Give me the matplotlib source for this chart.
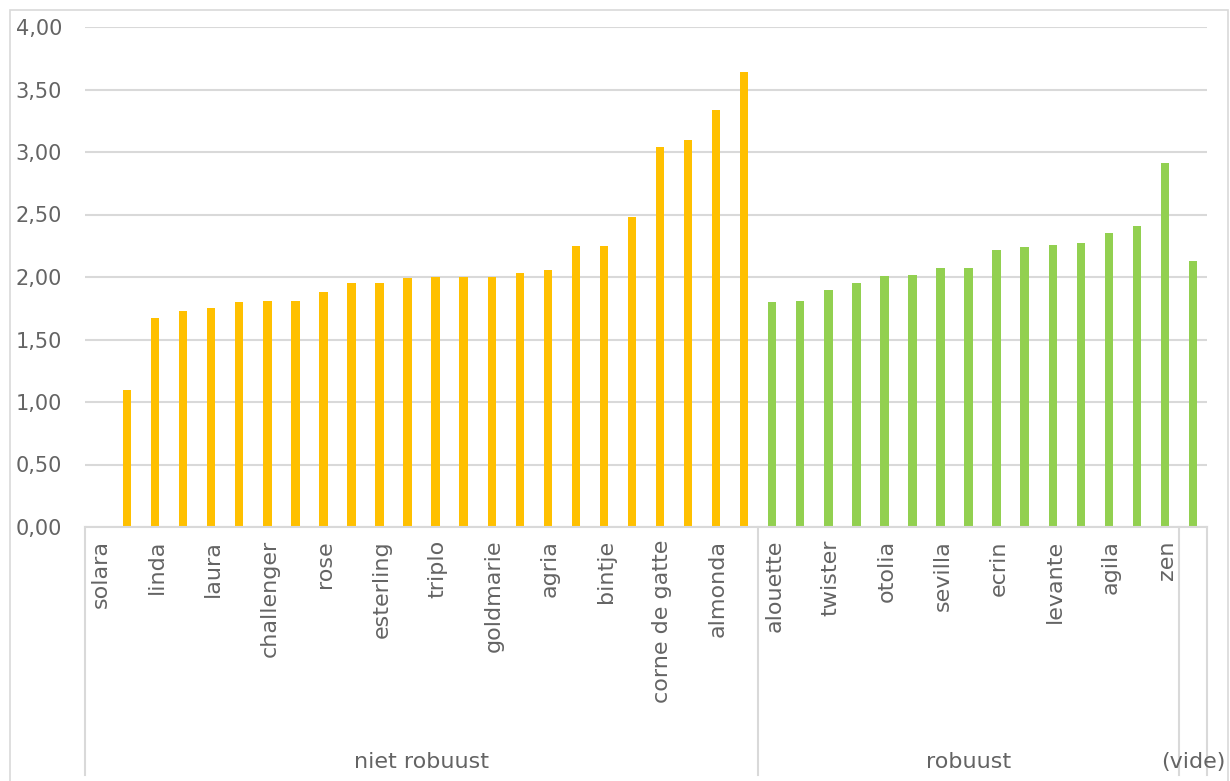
import numpy as np
import matplotlib
matplotlib.use("Agg")
import matplotlib.pyplot as plt
from matplotlib.patches import Rectangle
from matplotlib.lines import Line2D

# ---------------- data ----------------
niet_names = ["solara", "", "linda", "", "laura", "", "challenger", "", "rose", "",
              "esterling", "", "triplo", "", "goldmarie", "", "agria", "", "bintje", "",
              "corne de gatte", "", "almonda", ""]
niet_values = [np.nan, 1.10, 1.67, 1.73, 1.75, 1.80, 1.81, 1.81, 1.88, 1.95,
               1.95, 1.99, 2.00, 2.00, 2.00, 2.03, 2.06, 2.25, 2.25, 2.48,
               3.04, 3.10, 3.34, 3.64]
rob_names = ["alouette", "", "twister", "", "otolia", "", "sevilla", "", "ecrin", "",
             "levante", "", "agila", "", "zen"]
rob_values = [1.80, 1.81, 1.90, 1.95, 2.01, 2.02, 2.07, 2.07, 2.22, 2.24,
              2.26, 2.27, 2.35, 2.41, 2.91]
vide_names = [""]
vide_values = [2.13]
groups = ["niet robuust", "robuust", "(vide)"]
yticks = [0, 0.5, 1.0, 1.5, 2.0, 2.5, 3.0, 3.5, 4.0]

ORANGE = "#FFC000"
GREEN = "#92D050"
GRAY_TXT = "#646464"
GRID = "#D9D9D9"
FONT = "DejaVu Sans"

W, H = 1230, 781
fig = plt.figure(figsize=(W / 100, H / 100), dpi=100)
L, R, T, B = 85, 1207, 27, 527
ax = fig.add_axes([L / W, 1 - B / H, (R - L) / W, (B - T) / H])

names = niet_names + rob_names + vide_names
values = niet_values + rob_values + vide_values
colors = [ORANGE] * len(niet_values) + [GREEN] * len(rob_values) + [GREEN] * len(vide_values)
n = len(values)
x = np.arange(n) + 0.5

ax.bar(x, values, width=0.3, color=colors, zorder=3)
ax.set_xlim(0, n)
ax.set_ylim(0, 4)
ax.set_yticks(yticks)
ax.set_yticklabels([f"{v:.2f}".replace(".", ",") for v in yticks],
                   fontsize=15, color=GRAY_TXT, family=FONT)
ax.tick_params(axis="y", length=0, pad=16.5)
ax.set_xticks([])
ax.grid(axis="y", color=GRID, linewidth=1.5, zorder=0)
for s in ["top", "right", "left"]:
    ax.spines[s].set_visible(False)
ax.spines["bottom"].set_color(GRID)
ax.spines["bottom"].set_linewidth(1.5)
ax.spines["bottom"].set_zorder(4)

trans = ax.get_xaxis_transform()
px = 1.0 / (B - T)  # one pixel in axes fraction (y)

# category labels
for xi, nm in zip(x, names):
    if nm:
        ax.text(xi + 0.07, -13 * px, nm, rotation=90, ha="center", va="top",
                fontsize=16, color=GRAY_TXT, family=FONT, transform=trans)

# group dividers and labels
sizes = [len(niet_values), len(rob_values), len(vide_values)]
edges = np.concatenate([[0], np.cumsum(sizes)])
bottom_frac = -(775 - B) * px
for e in edges:
    ax.add_line(Line2D([e, e], [0, bottom_frac], transform=trans, color=GRID,
                       linewidth=1.5, clip_on=False))
for g, a, b in zip(groups, edges[:-1], edges[1:]):
    ax.text((a + b) / 2, -(762 - B) * px, g, ha="center", va="center",
            fontsize=16, color=GRAY_TXT, family=FONT, transform=trans)

# chart border
fig.patches.append(Rectangle((10 / W, -0.02), (1228 - 10) / W, 1 - 10 / H + 0.02,
                             transform=fig.transFigure, fill=False,
                             edgecolor=GRID, linewidth=1.2))

fig.savefig("out.png", dpi=100)
